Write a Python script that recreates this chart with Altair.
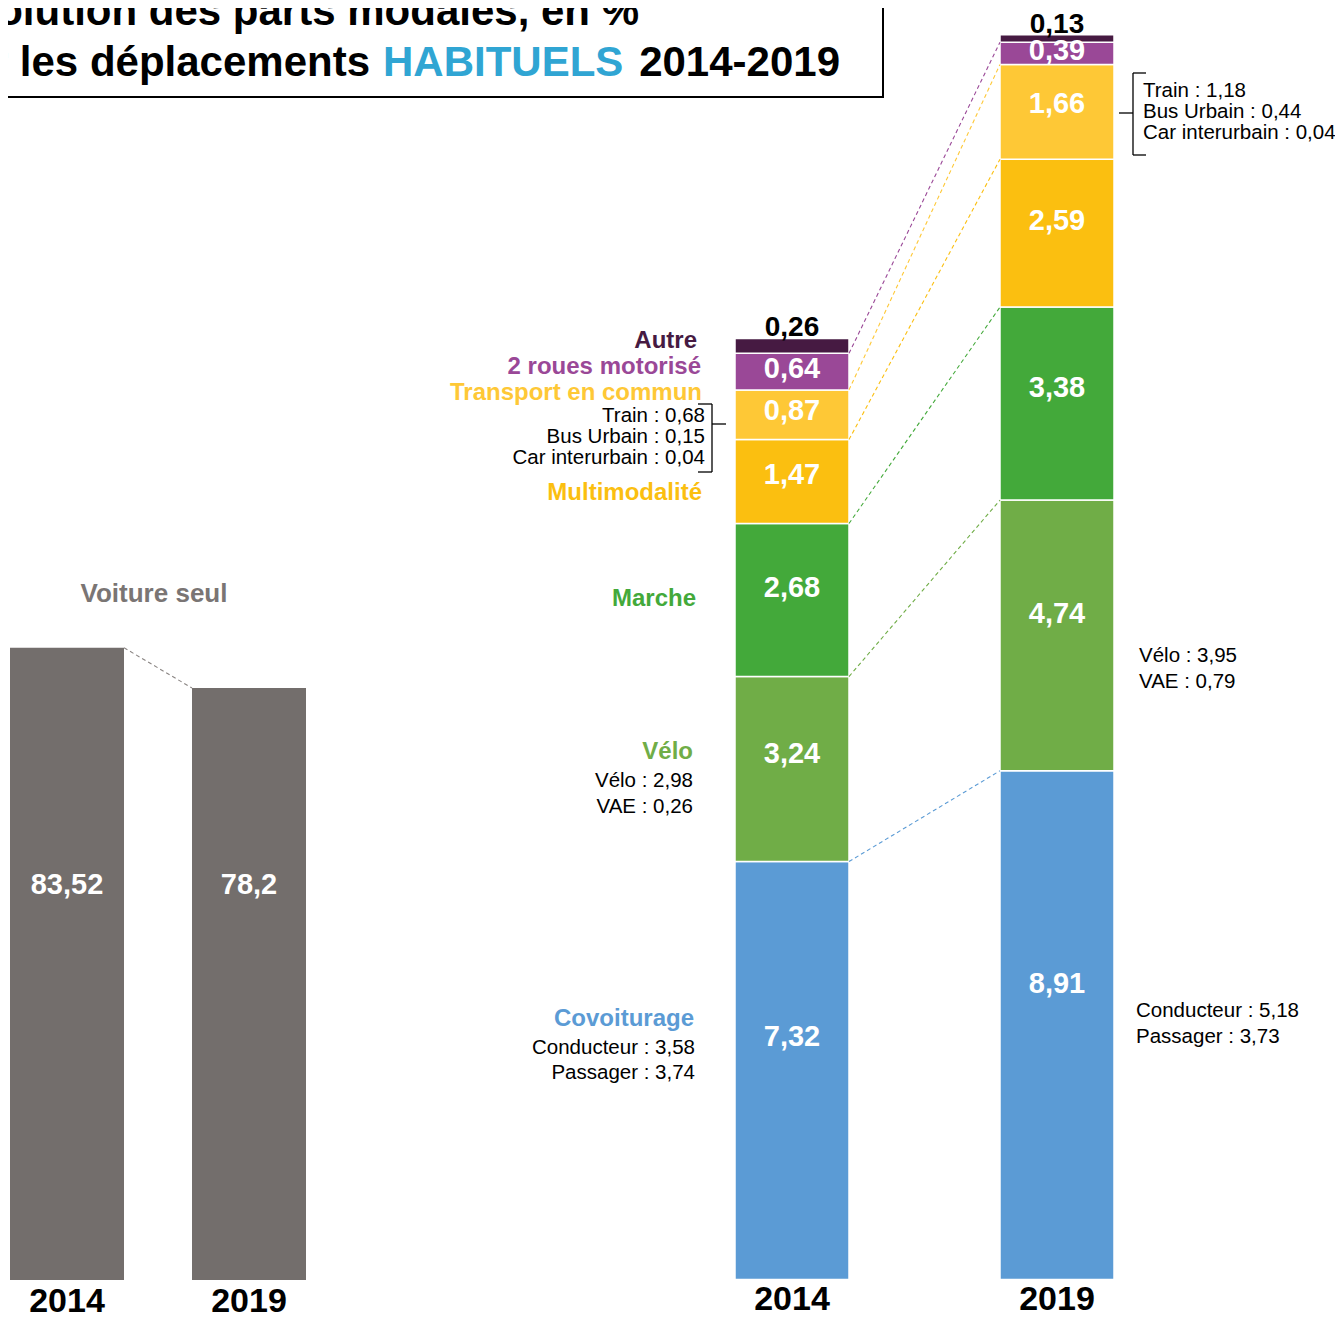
import altair as alt
import pandas as pd

# ---------------- data ----------------
years = ["2014", "2019"]
voiture_seul = [83.52, 78.2]

modes = ["Covoiturage", "Vélo", "Marche", "Multimodalité",
         "Transport en commun", "2 roues motorisé", "Autre"]
parts_2014 = [7.32, 3.24, 2.68, 1.47, 0.87, 0.64, 0.26]
parts_2019 = [8.91, 4.74, 3.38, 2.59, 1.66, 0.39, 0.13]
mode_colors = ["#5B9BD5", "#70AD47", "#43A93A", "#FBBF10",
               "#FEC836", "#9A4897", "#461A42"]

tc_names = ["Train", "Bus Urbain", "Car interurbain"]
tc_2014 = [0.68, 0.15, 0.04]
tc_2019 = [1.18, 0.44, 0.04]
velo_names = ["Vélo", "VAE"]
velo_2014 = [2.98, 0.26]
velo_2019 = [3.95, 0.79]
covoit_names = ["Conducteur", "Passager"]
covoit_2014 = [3.58, 3.74]
covoit_2019 = [5.18, 3.73]

title_line1 = "Évolution des parts modales, en %"
title_line2 = ["Pour les déplacements", "HABITUELS", "2014-2019"]
left_title = "Voiture seul"

# ---------------- helpers ----------------
OFF = 8            # page margin: reference pixel -> chart pixel
W, H = 1327, 1313
FONT = "Liberation Sans"


def fmt(v):
    return f"{v:g}".replace(".", ",")


def band_scale(first_left, bandwidth, step):
    pi = 1 - bandwidth / step
    return alt.Scale(domain=years, range=[first_left, first_left + step * (2 - pi)],
                     paddingInner=pi, paddingOuter=0, round=False)


def lin_scale(base_px, px_per_unit, height):
    lo = -(height - base_px) / px_per_unit
    return alt.Scale(domain=[lo, lo + height / px_per_unit], zero=False, nice=False)


BLANK = alt.Data(values=[{}])


def note(text, x, y, size=20.5, color="black", bold=False, align="left",
         baseline="middle", font=FONT):
    return alt.Chart(BLANK).mark_text(
        text=text, align=align, baseline=baseline, fontSize=size,
        fontWeight="bold" if bold else "normal", color=color, font=font
    ).encode(x=alt.value(x - OFF), y=alt.value(y - OFF))


def seg(x1, y1, x2, y2, color="black", width=1.3):
    return alt.Chart(BLANK).mark_rule(color=color, strokeWidth=width).encode(
        x=alt.value(x1 - OFF), x2=alt.value(x2 - OFF),
        y=alt.value(y1 - OFF), y2=alt.value(y2 - OFF))


# ---------------- scales ----------------
lx = band_scale(10 - OFF, 114, 182)
ly = lin_scale(1280 - OFF, 7.57, H)
rx = band_scale(735 - OFF, 114, 265)
ry = lin_scale(1279.5 - OFF, 57.1, H)

# ---------------- left: voiture seule ----------------
voit = pd.DataFrame({"year": years, "value": voiture_seul,
                     "label": [fmt(v) for v in voiture_seul]})
lbase = alt.Chart(voit)
left_bars = lbase.mark_bar(color="#736E6C").encode(
    x=alt.X("year:N", scale=lx, axis=None),
    y=alt.Y("value:Q", scale=ly, axis=None),
    y2=alt.datum(0))
left_vals = lbase.mark_text(color="white", fontSize=29, fontWeight="bold",
                            font=FONT, baseline="middle").encode(
    x=alt.X("year:N", scale=lx, axis=None), y=alt.value(885 - OFF), text="label:N")
left_years = lbase.mark_text(color="black", fontSize=34, fontWeight="bold",
                             font=FONT, baseline="middle").encode(
    x=alt.X("year:N", scale=lx, axis=None), y=alt.value(1302 - OFF), text="year:N")
vconn = pd.DataFrame({"x_from": [years[0]], "x_to": [years[1]],
                      "y_from": [voiture_seul[0]], "y_to": [voiture_seul[1]]})
left_conn = alt.Chart(vconn).mark_rule(color="#8A8583", strokeDash=[4, 3],
                                       strokeWidth=1.1).encode(
    x=alt.X("x_from:N", bandPosition=1, scale=lx, axis=None),
    x2=alt.X2("x_to:N", bandPosition=0),
    y=alt.Y("y_from:Q", scale=ly, axis=None), y2="y_to:Q")
left = alt.layer(left_bars, left_conn, left_vals, left_years)

# ---------------- right: stacked modes ----------------
rows = []
for yr, vals in zip(years, [parts_2014, parts_2019]):
    cum = 0.0
    for m, v in zip(modes, vals):
        rows.append(dict(year=yr, mode=m, value=v, y0=cum, y1=cum + v,
                         label=fmt(v), ly=cum + v - 0.42 * v))
        cum += v
stack = pd.DataFrame(rows)

conn_rows = []
for m in modes[:-1]:
    a = stack[(stack.year == years[0]) & (stack["mode"] == m)].y1.iloc[0]
    b = stack[(stack.year == years[1]) & (stack["mode"] == m)].y1.iloc[0]
    conn_rows.append(dict(mode=m, x_from=years[0], x_to=years[1], y_from=a, y_to=b))
conn = pd.DataFrame(conn_rows)

color = alt.Color("mode:N", scale=alt.Scale(domain=modes, range=mode_colors), legend=None)
rbase = alt.Chart(stack)
right_bars = rbase.mark_bar(stroke="white", strokeWidth=1.5).encode(
    x=alt.X("year:N", scale=rx, axis=None),
    y=alt.Y("y1:Q", scale=ry, axis=None), y2="y0:Q", color=color)
right_conn = alt.Chart(conn).mark_rule(strokeDash=[4, 3], strokeWidth=1.1).encode(
    x=alt.X("x_from:N", bandPosition=1, scale=rx, axis=None),
    x2=alt.X2("x_to:N", bandPosition=0),
    y=alt.Y("y_from:Q", scale=ry, axis=None), y2="y_to:Q", color=color)
inner_vals = rbase.transform_filter(alt.datum.mode != "Autre").mark_text(
    color="white", fontSize=29, fontWeight="bold", font=FONT, baseline="middle").encode(
    x=alt.X("year:N", scale=rx, axis=None), y=alt.Y("ly:Q", scale=ry, axis=None),
    text="label:N")
top_vals = rbase.transform_filter(alt.datum.mode == "Autre").mark_text(
    color="black", fontSize=28, fontWeight="bold", font=FONT, baseline="alphabetic",
    dy=-2).encode(
    x=alt.X("year:N", scale=rx, axis=None), y=alt.Y("y1:Q", scale=ry, axis=None),
    text="label:N")
right_years = alt.Chart(pd.DataFrame({"year": years})).mark_text(
    color="black", fontSize=34, fontWeight="bold", font=FONT, baseline="middle").encode(
    x=alt.X("year:N", scale=rx, axis=None), y=alt.value(1300 - OFF), text="year:N")
right = alt.layer(right_bars, right_conn, inner_vals, top_vals, right_years)

# ---------------- annotations ----------------
col = dict(zip(modes, mode_colors))
notes = [
    # title box
    alt.Chart(BLANK).mark_rect(fillOpacity=0, stroke="black", strokeWidth=2).encode(
        x=alt.value(-30), x2=alt.value(883 - OFF), y=alt.value(-30), y2=alt.value(97 - OFF)),
    note(title_line1, 639, 25, 42, bold=True, align="right", baseline="alphabetic"),
    note(title_line2[0], 370, 76, 42, bold=True, align="right", baseline="alphabetic"),
    note(title_line2[1], 383, 76, 42, color="#30A5D3", bold=True, align="left",
         baseline="alphabetic"),
    note(title_line2[2], 840, 76, 42, bold=True, align="right", baseline="alphabetic"),
    note(left_title, 154, 594, 26, color="#7A7574", bold=True, align="center"),
    # labels left of 2014
    note("Autre", 697, 341, 24, col["Autre"], True, "right"),
    note("2 roues motorisé", 701, 367, 24, col["2 roues motorisé"], True, "right"),
    note("Transport en commun", 702, 393, 24, col["Transport en commun"], True, "right"),
    note("Multimodalité", 702, 493, 24, col["Multimodalité"], True, "right"),
    note("Marche", 696, 599, 24, col["Marche"], True, "right"),
    note("Vélo", 693, 752, 24, col["Vélo"], True, "right"),
    note("Covoiturage", 694, 1019, 24, col["Covoiturage"], True, "right"),
    # brackets
    seg(698, 404, 712, 404), seg(712, 404, 712, 472), seg(698, 472, 712, 472),
    seg(712, 424, 726, 424),
    seg(1133, 73, 1146, 73), seg(1133, 73, 1133, 155), seg(1133, 155, 1146, 155),
    seg(1119, 113, 1133, 113),
]
for name, v, yy in zip(tc_names, tc_2014, [416, 437, 458]):
    notes.append(note(f"{name} : {fmt(v)}", 705, yy, align="right"))
for name, v, yy in zip(velo_names, velo_2014, [781, 807]):
    notes.append(note(f"{name} : {fmt(v)}", 693, yy, align="right"))
for name, v, yy in zip(covoit_names, covoit_2014, [1048, 1073]):
    notes.append(note(f"{name} : {fmt(v)}", 695, yy, align="right"))
for name, v, yy in zip(tc_names, tc_2019, [91, 112, 133]):
    notes.append(note(f"{name} : {fmt(v)}", 1143, yy))
for name, v, yy in zip(velo_names, velo_2019, [656, 682]):
    notes.append(note(f"{name} : {fmt(v)}", 1139, yy))
for name, v, yy in zip(covoit_names, covoit_2019, [1011, 1037]):
    notes.append(note(f"{name} : {fmt(v)}", 1136, yy))

chart = alt.layer(left, right, *notes).resolve_scale(
    x="independent", y="independent", color="independent"
).properties(
    width=W, height=H, padding=0, autosize=alt.AutoSizeParams(type="none")
).configure_view(stroke=None)

chart.save("out.html", embed_options={"renderer": "svg", "actions": False})
